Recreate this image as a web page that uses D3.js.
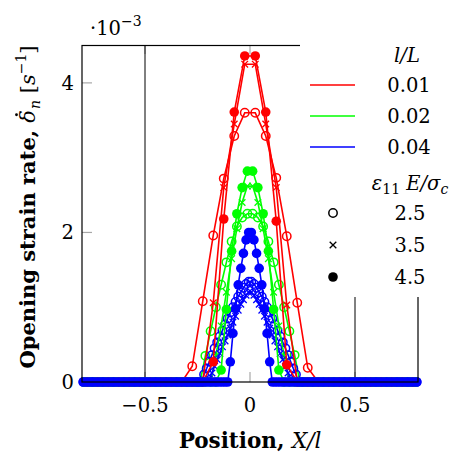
<!DOCTYPE html>
<html>
<head>
<meta charset="utf-8">
<script src="https://cdn.jsdelivr.net/npm/d3@7"></script>
<style>
body { margin: 0; background: #fff; }
svg { display: block; }
text { font-family: "DejaVu Serif", "Liberation Serif", serif; fill: #000; }
</style>
</head>
<body>
<svg width="459" height="455"></svg>
<script>
// l/L groups (colour) and load levels (marker)
const ratioLabels = ["0.01", "0.02", "0.04"]
const ratioColors = ["#ff0000", "#00ff00", "#0000ff"]
const meshStep = [0.05, 0.025, 0.0125]
const loadLabels = ["2.5", "3.5", "4.5"]
const markTypes = ["circle", "cross", "dot"]

const xTicks = [-0.5, 0, 0.5]
const yTicks = [0, 2, 4]

// non-zero part of each curve (x10^-3), left to right, from coreStart
const red25 = [0, 0.21, 1.08, 1.96, 2.72, 3.29, 3.6, 3.6, 3.29, 2.73, 1.95, 1.06, 0.19, 0]
const red35 = [0, 1.06, 2.6, 3.45, 4.25, 4.25, 3.45, 2.6, 1.03, 0]
const red45 = [0, 0.27, 2.18, 3.61, 4.36, 4.36, 3.61, 2.15, 0.23, 0]
const green25 = [0, 0.35, 0.68, 1.0, 1.3, 1.6, 1.88, 2.08, 2.2, 2.25, 2.25, 2.2, 2.08, 1.88, 1.6, 1.3, 1.0, 0.68, 0.36, 0]
const green35 = [0, 0.35, 0.75, 1.2, 1.65, 2.05, 2.4, 2.62, 2.62, 2.4, 2.05, 1.65, 1.2, 0.75, 0.35, 0]
const green45 = [0, 0.16, 0.97, 1.75, 2.25, 2.6, 2.82, 2.82, 2.6, 2.25, 1.75, 0.97, 0.16, 0]
const blue25 = [0, 0.1, 0.18, 0.27, 0.36, 0.45, 0.53, 0.61, 0.69, 0.77, 0.85, 0.93, 1.0, 1.07, 1.14, 1.2, 1.26, 1.31, 1.34,
    1.34, 1.31, 1.26, 1.2, 1.14, 1.07, 1.0, 0.93, 0.85, 0.77, 0.69, 0.61, 0.53, 0.45, 0.36, 0.27, 0.18, 0.1, 0]
const blue35 = [0, 0.04, 0.12, 0.21, 0.3, 0.38, 0.47, 0.55, 0.63, 0.72, 0.8, 0.88, 0.96, 1.04, 1.1, 1.16, 1.2,
    1.2, 1.16, 1.1, 1.04, 0.96, 0.88, 0.8, 0.72, 0.63, 0.55, 0.47, 0.38, 0.3, 0.21, 0.12, 0.04, 0]
const blue45 = [0, 0.27, 0.65, 0.98, 1.3, 1.52, 1.72, 1.9, 2.0, 2.0, 1.9, 1.72, 1.52, 1.3, 0.98, 0.65, 0.27, 0]

const curves = [[red25, red35, red45], [green25, green35, green45], [blue25, blue35, blue45]]
const coreStart = [[-0.325, -0.225, -0.225], [-0.2375, -0.1875, -0.1625], [-0.23125, -0.20625, -0.10625]]

const svg = d3.select("svg")

const xScale = d3.scaleLinear().domain([-0.8, 0.8]).range([82, 418])
const yScale = d3.scaleLinear().domain([0, 4.5]).range([382, 45.5])

// full mesh: zero outside the core
function buildSeries(c, m) {
    const step = meshStep[c]
    const n = Math.round(1.6 / step)
    const core = curves[c][m]
    const i0 = Math.round((coreStart[c][m] + 0.8) / step - 0.5)
    return d3.range(n).map(i => {
        const k = i - i0
        return { x: -0.8 + (i + 0.5) * step, y: (k >= 0 && k < core.length) ? core[k] : 0 }
    })
}

// ticks
const tickColor = "#a8a8a8"
const g = svg.append("g")
yTicks.forEach(t => {
    g.append("line").attr("x1", 82).attr("x2", 92).attr("y1", yScale(t)).attr("y2", yScale(t))
        .style("stroke", tickColor).style("stroke-width", 1.2)
    g.append("line").attr("x1", 408).attr("x2", 418).attr("y1", yScale(t)).attr("y2", yScale(t))
        .style("stroke", tickColor).style("stroke-width", 1.2)
})
xTicks.forEach(t => {
    g.append("line").attr("x1", xScale(t)).attr("x2", xScale(t)).attr("y1", 382).attr("y2", 372)
        .style("stroke", tickColor).style("stroke-width", 1.2)
    g.append("line").attr("x1", xScale(t)).attr("x2", xScale(t)).attr("y1", 45.5).attr("y2", 54)
        .style("stroke", tickColor).style("stroke-width", 1.2)
})
// black lines at +-0.5
;[-0.5, 0.5].forEach(t => {
    g.append("line").attr("x1", xScale(t)).attr("x2", xScale(t)).attr("y1", 45.5).attr("y2", 382)
        .style("stroke", "#000").style("stroke-width", 1)
})

// data
const line = d3.line().x(d => xScale(d.x)).y(d => yScale(d.y))
const plot = svg.append("g")

function drawMark(sel, type, color, x, y) {
    if (type === "circle") {
        sel.append("circle").attr("cx", x).attr("cy", y).attr("r", 4.2)
            .style("fill", "none").style("stroke", color).style("stroke-width", 1.5)
    } else if (type === "cross") {
        const s = 3.3
        sel.append("path").attr("d", `M${x - s},${y - s}L${x + s},${y + s}M${x - s},${y + s}L${x + s},${y - s}`)
            .style("stroke", color).style("stroke-width", 1.3)
    } else {
        sel.append("circle").attr("cx", x).attr("cy", y).attr("r", 4.8)
            .style("fill", color)
    }
}

markTypes.forEach((mt, m) => {
    ratioColors.forEach((col, c) => {
        const pts = buildSeries(c, m)
        const sg = plot.append("g")
        sg.append("path").attr("d", line(pts))
            .style("fill", "none").style("stroke", col).style("stroke-width", 1.6)
        pts.forEach(p => drawMark(sg, mt, col, xScale(p.x), yScale(p.y)))
    })
})

// frame
svg.append("rect").attr("x", 82).attr("y", 45.5).attr("width", 336).attr("height", 336.5)
    .style("fill", "none").style("stroke", "#000").style("stroke-width", 1.2)

// tick labels
yTicks.forEach(t => {
    svg.append("text").attr("x", 74).attr("y", yScale(t) + 7).attr("text-anchor", "end")
        .style("font-size", "19.5px").text(t)
})
xTicks.forEach(t => {
    svg.append("text").attr("x", xScale(t)).attr("y", 412).attr("text-anchor", "middle")
        .style("font-size", "19.5px").text(t < 0 ? "\u2212" + Math.abs(t) : t)
})

// scale factor
const sc = svg.append("text").attr("x", 90).attr("y", 35).style("font-size", "19.5px")
sc.append("tspan").text("\u00b710")
sc.append("tspan").attr("dy", -9).style("font-size", "14px").text("\u22123")

// legend
const lg = svg.append("g")
lg.append("rect").attr("x", 300).attr("y", 34).attr("width", 159).attr("height", 263).style("fill", "#fff")
lg.append("text").attr("x", 407).attr("y", 62).attr("text-anchor", "middle")
    .style("font-size", "19.5px").style("font-style", "italic").text("l/L")
ratioLabels.forEach((lab, i) => {
    const y = 85 + i * 31
    lg.append("line").attr("x1", 310).attr("x2", 355).attr("y1", y).attr("y2", y)
        .style("stroke", ratioColors[i]).style("stroke-width", 1.6)
    lg.append("text").attr("x", 409).attr("y", y + 7).attr("text-anchor", "middle")
        .style("font-size", "19.5px").text(lab)
})
const eps = lg.append("text").attr("x", 410).attr("y", 190).attr("text-anchor", "middle").style("font-size", "19.5px")
eps.append("tspan").style("font-style", "italic").text("\u03b5")
eps.append("tspan").attr("dy", 4).style("font-size", "14px").text("11")
eps.append("tspan").attr("dy", -4).style("font-style", "italic").text(" E/\u03c3")
eps.append("tspan").attr("dy", 4).style("font-size", "14px").style("font-style", "italic").text("c")
loadLabels.forEach((lab, i) => {
    const y = 213 + i * 32
    drawMark(lg, markTypes[i], "#000", 333, y)
    lg.append("text").attr("x", 410).attr("y", y + 7).attr("text-anchor", "middle")
        .style("font-size", "19.5px").text(lab)
})

// axis labels
const xl = svg.append("text").attr("x", 250).attr("y", 448).attr("text-anchor", "middle").style("font-size", "21.5px")
xl.append("tspan").style("font-weight", "bold").text("Position, ")
xl.append("tspan").style("font-style", "italic").text("X/l")

const ylG = svg.append("g").attr("transform", "translate(35,207) rotate(-90)")
const yl = ylG.append("text").attr("text-anchor", "middle").style("font-size", "21px")
const boldPart = "Opening strain rate, "
yl.append("tspan").style("font-weight", "bold").text(boldPart)
yl.append("tspan").style("font-style", "italic").text("\u03b4")
yl.append("tspan").attr("dx", 1).attr("dy", 5).style("font-size", "14px").style("font-style", "italic").text("n")
yl.append("tspan").attr("dy", -5).text(" [")
yl.append("tspan").style("font-style", "italic").text("s")
yl.append("tspan").attr("dy", -9).style("font-size", "14px").text("\u22121")
yl.append("tspan").attr("dy", 9).text("]")
// dot above delta
const dBox = yl.node().getExtentOfChar(boldPart.length)
ylG.append("circle").attr("cx", dBox.x + dBox.width * 0.62).attr("cy", 0 - 18.5).attr("r", 1.4).style("fill", "#000")
</script>
</body>
</html>
